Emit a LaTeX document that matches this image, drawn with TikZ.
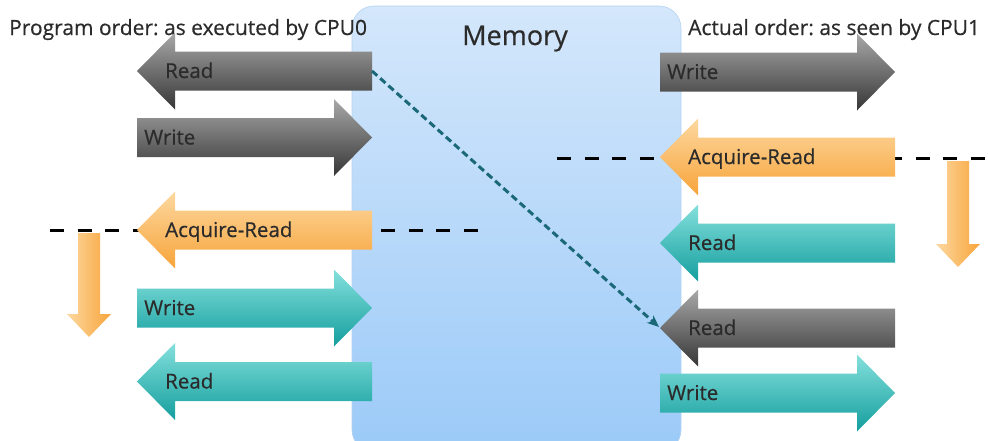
\documentclass[tikz,border=0pt]{standalone}
\usepackage{fontspec}
\setmainfont{Open Sans}
\newfontfamily\lblfont{Open Sans}[FakeBold=0.5]
\usetikzlibrary{arrows.meta}
\definecolor{gtop}{HTML}{A8A8A8}
\definecolor{gbot}{HTML}{363636}
\definecolor{otop}{HTML}{FDD8A0}
\definecolor{obot}{HTML}{F7A43A}
\definecolor{ttop}{HTML}{84E0DC}
\definecolor{tbot}{HTML}{149E9E}
\definecolor{mtop}{HTML}{D4E7FB}
\definecolor{mbot}{HTML}{9BCAF8}
\definecolor{mline}{HTML}{B5D3F2}
\definecolor{txt}{HTML}{2B2B2B}
\definecolor{dotc}{HTML}{1A6878}
\tikzset{
  grayarr/.style={top color=gtop,bottom color=gbot},
  orarr/.style={top color=otop,bottom color=obot},
  tealarr/.style={top color=ttop,bottom color=tbot},
  lbl/.style={inner sep=0pt,text=txt,font=\lblfont\fontsize{20.5}{24}\selectfont,anchor=base west},
  ttl/.style={inner sep=0pt,text=txt,font=\lblfont\fontsize{21}{25}\selectfont,anchor=base west},
  barrier/.style={line width=3pt,dash pattern=on 14pt off 13.6pt,black},
}
% left-pointing arrow: #1 name, #2 tip x, #3 centre y, #4 style, #5 label
\newcommand\myleftarrow[5]{%
  \shade[#4] (#2,#3) -- (#2+38,#3-38.5) -- (#2+38,#3-19.5) -- (#2+235,#3-19.5)
    -- (#2+235,#3+19.5) -- (#2+38,#3+19.5) -- (#2+38,#3+38.5) -- cycle;
  \node[lbl] (#1) at (#2+28,#3+7) {#5};
}
% right-pointing arrow: #1 name, #2 body left x, #3 centre y, #4 style, #5 label
\newcommand\myrightarrow[5]{%
  \shade[#4] (#2,#3-19.5) -- (#2+197,#3-19.5) -- (#2+197,#3-38.5) -- (#2+235,#3)
    -- (#2+197,#3+38.5) -- (#2+197,#3+19.5) -- (#2,#3+19.5) -- cycle;
  \node[lbl] (#1) at (#2+7,#3+7) {#5};
}
\begin{document}
\begin{tikzpicture}[x=1pt,y=-1pt]
\frenchspacing
\useasboundingbox (0,0) rectangle (988,440);
% memory block
\shade[top color=mtop,bottom color=mbot,draw=mline,line width=0.6pt,rounded corners=22pt]
  (352,6) rectangle (681,452);
\node[inner sep=0pt,text=txt,font=\lblfont\fontsize{27}{32}\selectfont,anchor=base] (mem) at (515,45) {Memory};
% titles
\node[ttl] (ltitle) at (9,35) {Program order: as executed by CPU0};
\node[ttl] (rtitle) at (688,35) {Actual order: as seen by CPU1};
% barriers
\coordinate (bl1) at (50,230);
\coordinate (bl2) at (479,230);
\coordinate (br1) at (557,158);
\coordinate (br2) at (990,158);
\draw[barrier] (bl1) -- (bl2);
\draw[barrier] (br1) -- (br2);
% left column
\myleftarrow{lr1}{137}{71}{grayarr}{Read}
\myrightarrow{lw1}{137}{137.5}{grayarr}{Write}
\myleftarrow{lar}{137}{230}{orarr}{Acquire-Read}
\myrightarrow{lw2}{137}{308}{tealarr}{Write}
\myleftarrow{lr2}{137}{381.5}{tealarr}{Read}
% right column
\myrightarrow{rw1}{660}{72}{grayarr}{Write}
\myleftarrow{rar}{660}{157}{orarr}{Acquire-Read}
\myleftarrow{rr1}{660}{243}{tealarr}{Read}
\myleftarrow{rr2}{660}{328}{grayarr}{Read}
\myrightarrow{rw2}{660}{393}{tealarr}{Write}
% ordering arrows (down)
\shade[left color=otop,right color=obot] (78,233) -- (100,233) -- (100,314) -- (111,314)
  -- (89,337) -- (67,314) -- (78,314) -- cycle;
\shade[left color=otop,right color=obot] (947,161) -- (969,161) -- (969,244) -- (980,244)
  -- (958,267) -- (936,244) -- (947,244) -- cycle;
% reordering connector
\coordinate (src) at (372,71);
\coordinate (dst) at (659,327);
\draw[dotc,line width=3pt,dash pattern=on 7pt off 4pt,-{Stealth[length=12pt,width=10pt]}] (src) -- (dst);
\end{tikzpicture}
\end{document}
